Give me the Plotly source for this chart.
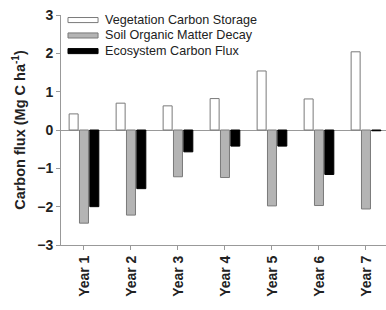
import plotly.graph_objects as go

years = ["Year 1", "Year 2", "Year 3", "Year 4", "Year 5", "Year 6", "Year 7"]
series_names = ["Vegetation Carbon Storage", "Soil Organic Matter Decay", "Ecosystem Carbon Flux"]
veg = [0.42, 0.70, 0.63, 0.82, 1.54, 0.81, 2.04]
soil = [-2.43, -2.22, -1.22, -1.24, -1.98, -1.97, -2.06]
eco = [-2.0, -1.53, -0.57, -0.42, -0.42, -1.16, -0.02]
y_ticks = [-3, -2, -1, 0, 1, 2, 3]

fills = ["#ffffff", "#b4b4b4", "#000000"]
lines = ["#7a7a7a", "#7a7a7a", "#000000"]
FONT = "Arial, Liberation Sans, sans-serif"

fig = go.Figure()
for name, vals, fc, lc in zip(series_names, [veg, soil, eco], fills, lines):
    fig.add_trace(go.Bar(x=years, y=vals, name=name, marker=dict(color=fc, line=dict(color=lc, width=1)),
                         showlegend=False))

# custom legend (wide flat swatches)
rows_y = [0.978, 0.911, 0.843]
for name, fc, lc, yy in zip(series_names, fills, lines, rows_y):
    fig.add_shape(type="rect", xref="paper", yref="paper", x0=0.0215, x1=0.114,
                  y0=yy - 0.011, y1=yy + 0.011, fillcolor=fc, line=dict(color=lc, width=1))
    fig.add_annotation(text=name, xref="paper", yref="paper", x=0.128, y=yy, xanchor="left",
                       yanchor="middle", showarrow=False, font=dict(family=FONT, size=12.6, color="#222"))

fig.update_layout(
    width=386, height=310,
    margin=dict(l=61, r=0, t=15, b=65),
    paper_bgcolor="white", plot_bgcolor="white",
    barmode="group", bargap=0.34, bargroupgap=0.13,
    font=dict(family=FONT, color="#222"),
)
fig.update_xaxes(
    range=[-0.489, 6.426], showline=True, linecolor="#999", linewidth=1, automargin=False,
    ticks="outside", ticklen=4, tickcolor="#999", tickangle=-90,
    tickfont=dict(family=FONT, size=14, color="#222", weight="bold"),
    showgrid=False, zeroline=False,
)
fig.update_yaxes(
    range=[-3, 3], tickvals=y_ticks, showline=True, linecolor="#999", linewidth=1, automargin=False,
    ticks="outside", ticklen=4, tickcolor="#999",
    tickfont=dict(family=FONT, size=14, color="#222", weight="bold"),
    showgrid=False, zeroline=True, zerolinecolor="#999", zerolinewidth=1,
    title=dict(text="Carbon flux (Mg C ha<sup>-1</sup>)", font=dict(family=FONT, size=14.5, color="#222", weight="bold"), standoff=8),
)
fig.write_html("out.html", config={"displayModeBar": False},
               post_script="document.body.style.margin='0';document.body.style.overflow='hidden';")
